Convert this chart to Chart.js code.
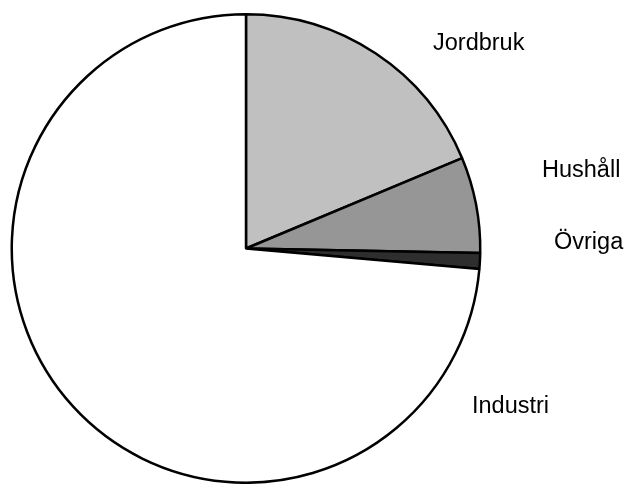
<!DOCTYPE html>
<html>
<head>
<meta charset="utf-8">
<script src="https://cdn.jsdelivr.net/npm/chart.js@4.4.1/dist/chart.umd.min.js"></script>
<style>
  html, body { margin: 0; padding: 0; background: #ffffff; }
  #wrap { width: 630px; height: 484px; }
</style>
</head>
<body>
<div id="wrap"><canvas id="pieChart" width="630" height="484"></canvas></div>
<script>
//<![CDATA[

// Andel per sektor (%)
let categories = ['Jordbruk', 'Hushåll', 'Övriga', 'Industri'];
let shares = [18.7, 6.6, 1.1, 73.6];
let sliceColors = ['#c0c0c0', '#969696', '#2e2e2e', '#ffffff'];

// Where each label text starts (left edge, baseline)
let labelSpots = [
    { x: 433, y: 50 },
    { x: 542, y: 177 },
    { x: 554, y: 249 },
    { x: 472, y: 413 }
];

const outsideLabels = {
    id: 'outsideLabels',
    afterDraw(chart) {
        const ctx = chart.ctx;
        ctx.save();
        ctx.fillStyle = '#000000';
        ctx.font = '23.5px "Liberation Sans", Arial, sans-serif';
        ctx.textAlign = 'left';
        ctx.textBaseline = 'alphabetic';
        chart.data.labels.forEach(function(label, i) {
            ctx.fillText(label, labelSpots[i].x, labelSpots[i].y);
        });
        ctx.restore();
    }
};

const pie = new Chart(document.getElementById('pieChart'), {
    type: 'pie',
    data: {
        labels: categories,
        datasets: [
            {
                data: shares,
                backgroundColor: sliceColors,
                borderColor: '#000000',
                borderWidth: 2.5
            }
        ]
    },
    options: {
        responsive: false,
        animation: false,
        layout: {
            padding: { top: 13, bottom: 0, left: 10, right: 148 }
        },
        plugins: {
            legend: { display: false },
            tooltip: { enabled: false }
        }
    },
    plugins: [outsideLabels]
});

// ]]>
</script>
</body>
</html>
